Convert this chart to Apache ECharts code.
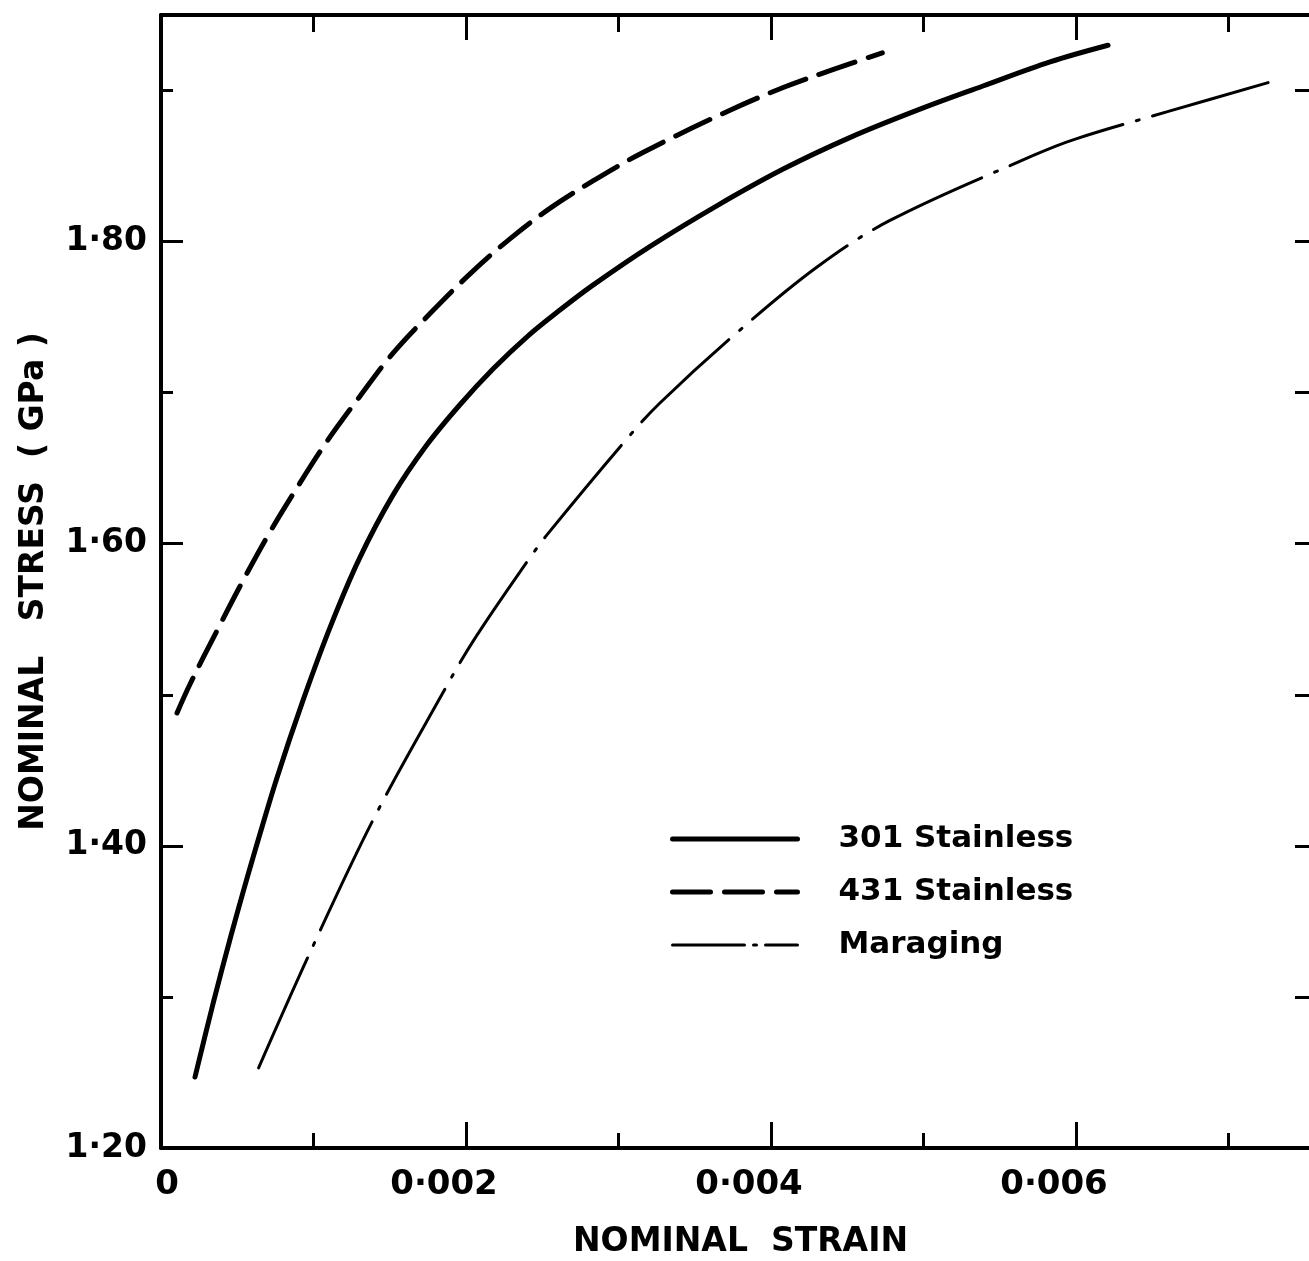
<!DOCTYPE html>
<html>
<head>
<meta charset="utf-8">
<script src="https://cdn.jsdelivr.net/npm/echarts@6/dist/echarts.min.js"></script>
<style>
  html, body { margin: 0; padding: 0; background: #fff; }
  #main { width: 1309px; height: 1261px; }
</style>
</head>
<body>
<div id="main"></div>
<script>
// 301 Stainless (solid)
const strain301 = [0.000223, 0.00034, 0.00046, 0.00054, 0.00062, 0.00076, 0.00093, 0.00111, 0.0013, 0.00152, 0.00174, 0.00196, 0.00218, 0.0024, 0.00262, 0.00283, 0.00321, 0.00365, 0.00408, 0.00452, 0.00496, 0.00539, 0.00583, 0.00621];
const stress301 = [1.247, 1.295, 1.341, 1.37, 1.398, 1.445, 1.496, 1.545, 1.59, 1.632, 1.665, 1.692, 1.716, 1.737, 1.755, 1.771, 1.797, 1.824, 1.848, 1.869, 1.887, 1.903, 1.919, 1.93];
// 431 Stainless (dashed)
const strain431 = [0.000105, 0.00019, 0.00037, 0.00054, 0.00071, 0.00091, 0.00109, 0.0013, 0.00152, 0.00178, 0.00203, 0.00229, 0.00255, 0.00283, 0.00316, 0.00371, 0.00408, 0.00441, 0.00473];
const stress431 = [1.488, 1.507, 1.543, 1.576, 1.607, 1.64, 1.668, 1.697, 1.726, 1.754, 1.779, 1.802, 1.822, 1.84, 1.859, 1.886, 1.902, 1.914, 1.925];
// Maraging (dash-dot)
const strainMar = [0.00064, 0.00098, 0.00139, 0.00183, 0.00205, 0.0024, 0.00254, 0.00306, 0.00327, 0.00378, 0.0043, 0.00478, 0.00572, 0.006, 0.0066, 0.00732];
const stressMar = [1.253, 1.33, 1.417, 1.498, 1.536, 1.588, 1.607, 1.67, 1.693, 1.74, 1.783, 1.814, 1.857, 1.868, 1.886, 1.907];

const xLabels = ["0", "0·002", "0·004", "0·006"];
const yLabels = ["1·20", "1·40", "1·60", "1·80"];

const zip = (xs, ys) => xs.map((x, i) => [x, ys[i]]);
const font = "DejaVu Sans";

const xRange = { min: 0, max: 0.0076 };
const yRange = { min: 1.2, max: 1.95 };
const black = { color: "#000", width: 3 };

const option = {
  animation: false,
  backgroundColor: "#fff",
  grid: { left: 161, top: 15, right: -11, bottom: 113, containLabel: false, outerBoundsMode: "none" },
  legend: {
    orient: "vertical",
    left: 665,
    top: 818,
    itemWidth: 125,
    itemHeight: 32,
    itemGap: 21,
    itemStyle: { opacity: 0, borderWidth: 0 },
    lineStyle: { width: 5 },
    textStyle: { color: "#000", fontFamily: font, fontWeight: "bold", fontSize: 31, lineHeight: 32, padding: [0, 0, 0, 36] },
    data: [
      { name: "301 Stainless" },
      { name: "431 Stainless" },
      { name: "Maraging", lineStyle: { width: 3, type: [72, 9, 3, 9] } },
    ],
  },
  xAxis: [
    {
      type: "value", position: "bottom", ...xRange, interval: 0.002,
      axisLine: { onZero: false, lineStyle: { color: "#000", width: 4 } },
      axisTick: { inside: true, length: 26, lineStyle: black },
      splitLine: { show: false },
      axisLabel: {
        margin: 20, showMaxLabel: false,
        formatter: (v) => {
          const k = Math.round(v * 1000);
          if (k % 2 !== 0) return "";
          const t = xLabels[k / 2];
          if (!t) return "";
          return k === 0 ? "{z|" + t + "}" : "{a|" + t + "}";
        },
        rich: {
          a: { color: "#000", fontFamily: font, fontWeight: "bold", fontSize: 34, padding: [0, 44, 0, 0] },
          z: { color: "#000", fontFamily: font, fontWeight: "bold", fontSize: 34, padding: [0, 0, 0, 12] },
        },
      },
      name: "NOMINAL  STRAIN",
      nameLocation: "middle",
      nameGap: 78,
      nameTextStyle: { color: "#000", fontFamily: font, fontWeight: "bold", fontSize: 33 },
    },
    {
      type: "value", position: "bottom", ...xRange, interval: 0.001,
      axisLine: { show: false, onZero: false },
      axisTick: { inside: true, length: 15, lineStyle: black },
      axisLabel: { show: false }, splitLine: { show: false },
    },
    {
      type: "value", position: "top", ...xRange, interval: 0.001,
      axisLine: { onZero: false, lineStyle: { color: "#000", width: 4 } },
      axisTick: { inside: true, length: 17, lineStyle: black },
      axisLabel: { show: false }, splitLine: { show: false },
    },
    {
      type: "value", position: "top", ...xRange, interval: 0.002,
      axisLine: { show: false, onZero: false },
      axisTick: { inside: true, length: 25, lineStyle: black },
      axisLabel: { show: false }, splitLine: { show: false },
    },
  ],
  yAxis: [
    {
      type: "value", position: "left", ...yRange, interval: 0.2,
      axisLine: { show: true, onZero: false, lineStyle: { color: "#000", width: 4 } },
      axisTick: { show: true, inside: true, length: 22, lineStyle: black },
      splitLine: { show: false },
      axisLabel: {
        margin: 14, showMaxLabel: false,
        color: "#000", fontFamily: font, fontWeight: "bold", fontSize: 33,
        formatter: (v) => {
          const k = Math.round((v - 1.2) * 10);
          if (Math.abs((v - 1.2) * 10 - k) > 1e-6 || k % 2 !== 0) return "";
          return yLabels[k / 2] || "";
        },
      },
      name: "NOMINAL   STRESS  ( GPa )",
      nameLocation: "middle",
      nameRotate: 90,
      nameGap: 110,
      nameTextStyle: { color: "#000", fontFamily: font, fontWeight: "bold", fontSize: 33 },
    },
    {
      type: "value", position: "left", ...yRange, interval: 0.1,
      axisLine: { show: false, onZero: false },
      axisTick: { show: true, inside: true, length: 12, lineStyle: black },
      axisLabel: { show: false }, splitLine: { show: false },
    },
    {
      type: "value", position: "right", ...yRange, interval: 0.1,
      axisLine: { show: true, onZero: false, lineStyle: { color: "#000", width: 4 } },
      axisTick: { show: true, inside: true, length: 25, lineStyle: black },
      axisLabel: { show: false }, splitLine: { show: false },
    },
  ],
  series: [
    {
      name: "301 Stainless", type: "line", smooth: 0.35, symbol: "none",
      data: zip(strain301, stress301),
      lineStyle: { color: "#000", width: 5, cap: "round" },
      itemStyle: { color: "#000" },
    },
    {
      name: "431 Stainless", type: "line", smooth: 0.35, symbol: "none",
      data: zip(strain431, stress431),
      lineStyle: { color: "#000", width: 5, type: [38, 14], cap: "round" },
      itemStyle: { color: "#000" },
    },
    {
      name: "Maraging", type: "line", smooth: 0.35, symbol: "none",
      data: zip(strainMar, stressMar),
      lineStyle: { color: "#000", width: 3, type: [120, 14, 3, 14], cap: "round" },
      itemStyle: { color: "#000" },
    },
  ],
};

const myChart = echarts.init(document.getElementById("main"));
myChart.setOption(option);
</script>
</body>
</html>
